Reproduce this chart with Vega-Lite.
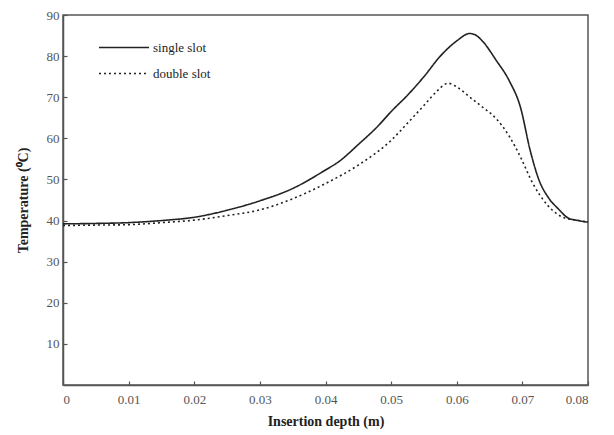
{
  "$schema": "https://vega.github.io/schema/vega-lite/v6.json",
  "autosize": {"type": "none"},
  "padding": {"left": 63, "top": 15, "right": 26, "bottom": 50},
  "width": 525,
  "height": 370,
  "background": "white",
  "config": {
    "font": "Liberation Serif",
    "view": {"stroke": "#555", "strokeWidth": 1.5},
    "axis": {"labelFont": "Liberation Serif", "titleFont": "Liberation Serif"},
    "legend": {"labelFont": "Liberation Serif"}
  },
  "data": {
    "values": [
      {"x": 0, "t": 39.2, "s": "single slot"},
      {"x": 0.005, "t": 39.3, "s": "single slot"},
      {"x": 0.01, "t": 39.5, "s": "single slot"},
      {"x": 0.015, "t": 40.0, "s": "single slot"},
      {"x": 0.02, "t": 40.8, "s": "single slot"},
      {"x": 0.025, "t": 42.5, "s": "single slot"},
      {"x": 0.03, "t": 44.8, "s": "single slot"},
      {"x": 0.035, "t": 47.8, "s": "single slot"},
      {"x": 0.04, "t": 52.3, "s": "single slot"},
      {"x": 0.042, "t": 54.3, "s": "single slot"},
      {"x": 0.045, "t": 58.5, "s": "single slot"},
      {"x": 0.048, "t": 63.0, "s": "single slot"},
      {"x": 0.05, "t": 66.5, "s": "single slot"},
      {"x": 0.0525, "t": 70.5, "s": "single slot"},
      {"x": 0.055, "t": 75.0, "s": "single slot"},
      {"x": 0.0575, "t": 80.0, "s": "single slot"},
      {"x": 0.06, "t": 83.7, "s": "single slot"},
      {"x": 0.062, "t": 85.5, "s": "single slot"},
      {"x": 0.063, "t": 85.0, "s": "single slot"},
      {"x": 0.064, "t": 83.5, "s": "single slot"},
      {"x": 0.066, "t": 79.0, "s": "single slot"},
      {"x": 0.068, "t": 74.0, "s": "single slot"},
      {"x": 0.0697, "t": 67.6, "s": "single slot"},
      {"x": 0.0712, "t": 57.0, "s": "single slot"},
      {"x": 0.0725, "t": 50.0, "s": "single slot"},
      {"x": 0.074, "t": 45.5, "s": "single slot"},
      {"x": 0.0755, "t": 42.8, "s": "single slot"},
      {"x": 0.077, "t": 40.6, "s": "single slot"},
      {"x": 0.0785, "t": 40.0, "s": "single slot"},
      {"x": 0.08, "t": 39.6, "s": "single slot"},
      {"x": 0, "t": 38.8, "s": "double slot"},
      {"x": 0.005, "t": 38.9, "s": "double slot"},
      {"x": 0.01, "t": 39.0, "s": "double slot"},
      {"x": 0.015, "t": 39.5, "s": "double slot"},
      {"x": 0.02, "t": 40.1, "s": "double slot"},
      {"x": 0.025, "t": 41.2, "s": "double slot"},
      {"x": 0.03, "t": 42.6, "s": "double slot"},
      {"x": 0.035, "t": 45.3, "s": "double slot"},
      {"x": 0.04, "t": 49.0, "s": "double slot"},
      {"x": 0.045, "t": 53.5, "s": "double slot"},
      {"x": 0.05, "t": 59.5, "s": "double slot"},
      {"x": 0.0525, "t": 63.7, "s": "double slot"},
      {"x": 0.055, "t": 68.0, "s": "double slot"},
      {"x": 0.057, "t": 71.5, "s": "double slot"},
      {"x": 0.0587, "t": 73.4, "s": "double slot"},
      {"x": 0.06, "t": 72.5, "s": "double slot"},
      {"x": 0.062, "t": 70.0, "s": "double slot"},
      {"x": 0.064, "t": 67.5, "s": "double slot"},
      {"x": 0.066, "t": 64.8, "s": "double slot"},
      {"x": 0.068, "t": 60.5, "s": "double slot"},
      {"x": 0.0697, "t": 55.5, "s": "double slot"},
      {"x": 0.0716, "t": 49.0, "s": "double slot"},
      {"x": 0.0738, "t": 43.8, "s": "double slot"},
      {"x": 0.0765, "t": 40.6, "s": "double slot"},
      {"x": 0.078, "t": 40.2, "s": "double slot"},
      {"x": 0.08, "t": 39.6, "s": "double slot"}
    ]
  },
  "mark": {"type": "line", "strokeWidth": 1.6, "interpolate": "monotone"},
  "encoding": {
    "x": {
      "field": "x", "type": "quantitative",
      "scale": {"domain": [0, 0.08], "nice": false},
      "axis": {
        "title": "Insertion depth (m)",
        "values": [0, 0.01, 0.02, 0.03, 0.04, 0.05, 0.06, 0.07, 0.08],
        "format": "~g",
        "grid": false,
        "domainColor": "#555", "domainWidth": 1.5,
        "tickColor": "#555", "tickSize": -4, "tickWidth": 1.2,
        "labelFontSize": 13, "labelColor": "#555", "labelPadding": 12,
        "titleFontSize": 14, "titleFontWeight": "bold", "titleColor": "#222", "titlePadding": 8
      }
    },
    "y": {
      "field": "t", "type": "quantitative",
      "scale": {"domain": [0, 90], "nice": false},
      "axis": {
        "title": "Temperature (⁰C)",
        "values": [10, 20, 30, 40, 50, 60, 70, 80, 90],
        "grid": false,
        "domainColor": "#555", "domainWidth": 1.5,
        "tickColor": "#555", "tickSize": -4, "tickWidth": 1.2,
        "labelFontSize": 13, "labelColor": "#555", "labelPadding": 8,
        "titleFontSize": 14, "titleFontWeight": "bold", "titleColor": "#222", "titlePadding": 16
      }
    },
    "strokeDash": {
      "field": "s", "type": "nominal",
      "scale": {"domain": ["single slot", "double slot"], "range": [[1, 0], [2, 3]]},
      "legend": {
        "title": null,
        "orient": "none",
        "legendX": 35,
        "legendY": 26,
        "padding": 0,
        "symbolType": "stroke",
        "symbolSize": 2500,
        "symbolStrokeWidth": 1.6,
        "symbolStrokeColor": "#222",
        "labelFont": "Liberation Serif",
        "labelFontSize": 13,
        "labelColor": "#222",
        "labelOffset": 3,
        "clipHeight": 13,
        "rowPadding": 12
      }
    },
    "color": {"value": "#222"}
  }
}
